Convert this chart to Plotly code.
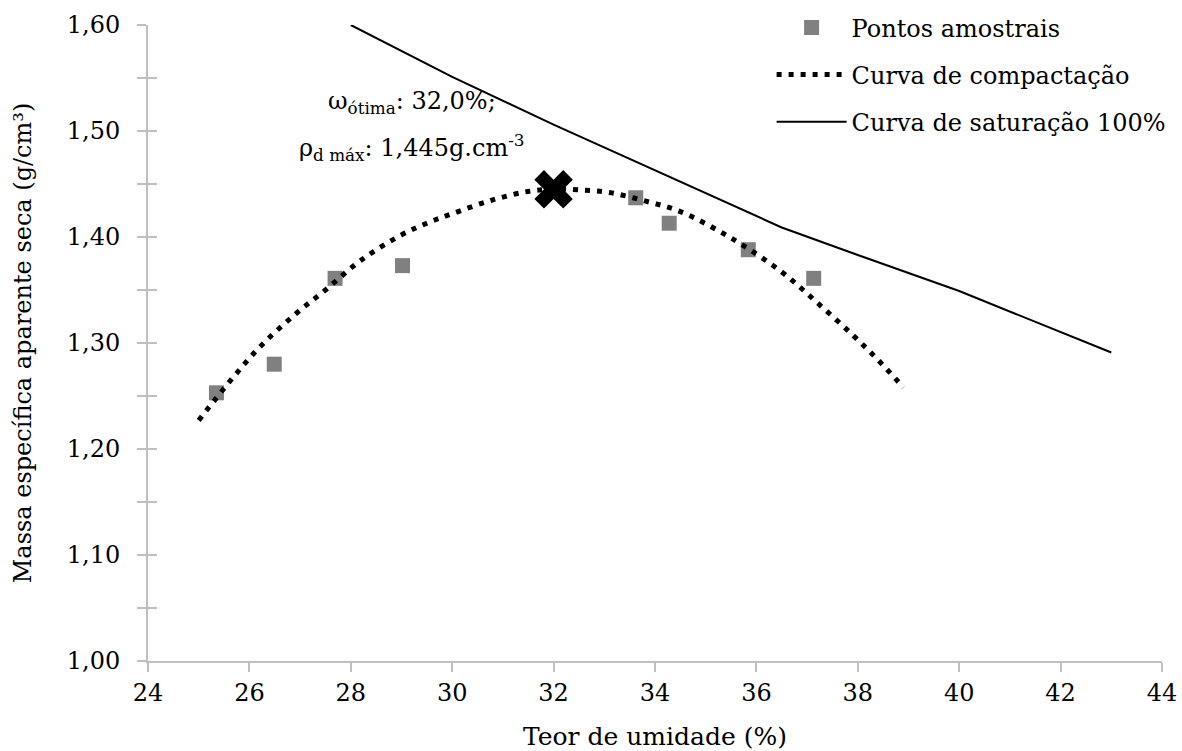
import plotly.graph_objects as go

# Sample points
w_pts = [25.35, 26.49, 27.69, 29.02, 33.62, 34.28, 35.84, 37.13]
rho_pts = [1.253, 1.280, 1.361, 1.373, 1.437, 1.413, 1.388, 1.361]

# Compaction curve
w_comp = [25.0, 25.6, 26.2, 26.9, 27.5, 28.2, 29.0, 29.5, 30.0, 30.8, 31.5, 32.0,
          32.5, 33.1, 33.8, 34.5, 35.5, 36.5, 37.2, 37.9, 38.4, 38.9]
rho_comp = [1.227, 1.263, 1.296, 1.327, 1.350, 1.378, 1.402, 1.413, 1.422, 1.435, 1.443, 1.445,
            1.4445, 1.442, 1.434, 1.424, 1.399, 1.367, 1.338, 1.3075, 1.284, 1.258]

# Saturation curve 100%
w_sat = [28, 30, 32, 34, 36.5, 38, 40, 43]
rho_sat = [1.600, 1.551, 1.506, 1.463, 1.409, 1.383, 1.349, 1.291]

# Optimum
w_opt = [32.0]
rho_opt = [1.445]

x_ticks = [24, 26, 28, 30, 32, 34, 36, 38, 40, 42, 44]

FONT = "DejaVu Serif"
AX = "#bfbfbf"

fig = go.Figure()
fig.add_trace(go.Scatter(x=w_pts, y=rho_pts, mode="markers", name="Pontos amostrais",
                         legendgroup="a",
                         marker=dict(symbol="square", size=15, color="#808080",
                                     line=dict(width=0))))
fig.add_trace(go.Scatter(x=w_comp, y=rho_comp, mode="lines", name="Curva de compactação",
                         legendgroup="b", line_shape="spline",
                         line=dict(color="black", width=5, dash="5px,7px")))
fig.add_trace(go.Scatter(x=w_sat, y=rho_sat, mode="lines", name="Curva de saturação 100%",
                         legendgroup="c",
                         line=dict(color="black", width=2)))
fig.add_trace(go.Scatter(x=w_opt, y=rho_opt, mode="markers", showlegend=False,
                         marker=dict(symbol="x", size=34, color="black", line=dict(width=0))))

fig.add_annotation(x=29.2, y=1.527, xref="x", yref="y", showarrow=False,
                   text="ω<sub>ótima</sub>: 32,0%;",
                   font=dict(family=FONT, size=24, color="black"))
fig.add_annotation(x=29.2, y=1.484, xref="x", yref="y", showarrow=False,
                   text="ρ<sub>d máx</sub>: 1,445g.cm<sup>-3</sup>",
                   font=dict(family=FONT, size=24, color="black"))

fig.update_layout(
    width=1182, height=751,
    margin=dict(l=148, r=20, t=25, b=90, autoexpand=False),
    paper_bgcolor="white", plot_bgcolor="white",
    separators=", ",
    font=dict(family=FONT, size=24, color="black"),
    showlegend=True,
    legend=dict(x=0.615, y=1.031, xanchor="left", yanchor="top",
                traceorder="grouped", tracegroupgap=13, itemwidth=70,
                font=dict(family=FONT, size=24, color="black"),
                bgcolor="rgba(0,0,0,0)"),
    xaxis=dict(range=[24, 44], tickvals=x_ticks, ticktext=[str(v) for v in x_ticks],
               automargin=False,
               showgrid=False, zeroline=False, showline=True, linecolor=AX, linewidth=2,
               ticks="outside", ticklen=9, tickcolor=AX, tickwidth=2,
               tickfont=dict(family=FONT, size=24),
               title=dict(text="Teor de umidade (%)", standoff=24,
                          font=dict(family=FONT, size=25))),
    yaxis=dict(range=[1.0, 1.6], dtick=0.1, tickformat=".2f",
               automargin=False,
               showgrid=False, zeroline=False, showline=True, linecolor=AX, linewidth=2,
               ticks="outside", ticklen=9, tickcolor=AX, tickwidth=2,
               tickfont=dict(family=FONT, size=24),
               minor=dict(dtick=0.05, ticks="outside", ticklen=9, tickcolor=AX, tickwidth=2),
               ticklabelstandoff=12,
               title=dict(text="Massa específica aparente seca (g/cm³)", standoff=28,
                          font=dict(family=FONT, size=24))),
    yaxis2=dict(range=[1.0, 1.6], overlaying="y", side="left", showticklabels=False,
                showgrid=False, zeroline=False, showline=False,
                ticks="inside", ticklen=9, tickcolor=AX, tickwidth=2, dtick=0.05),
)
# dummy trace to activate yaxis2 tick marks
fig.add_trace(go.Scatter(x=[None], y=[None], yaxis="y2", showlegend=False, hoverinfo="skip"))

fig.write_html("out.html")
